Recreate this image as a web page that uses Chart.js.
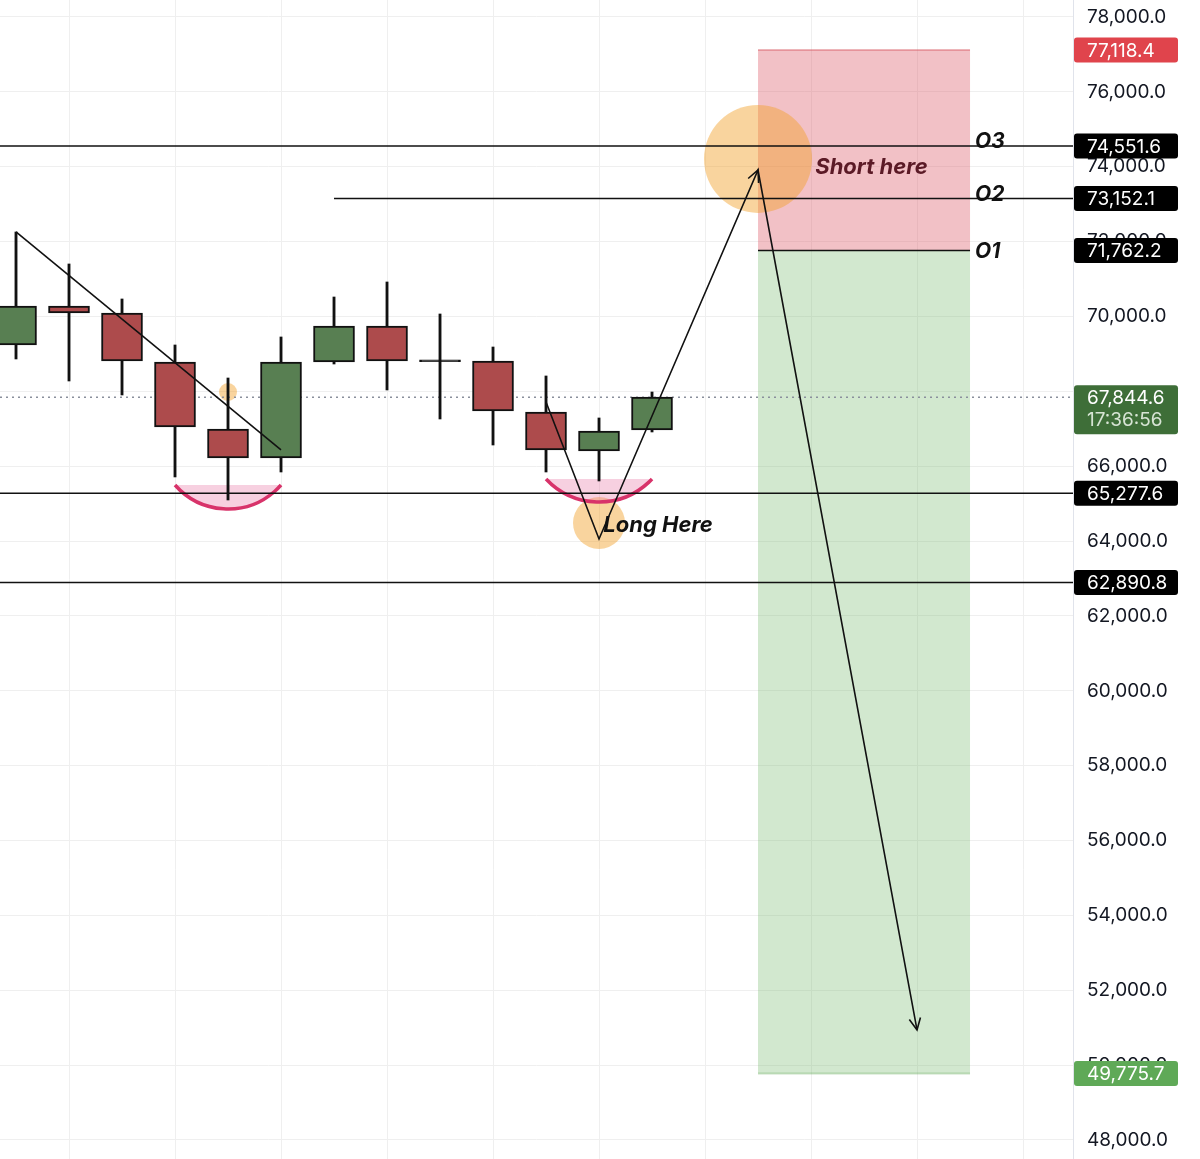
<!DOCTYPE html>
<html>
<head>
<meta charset="utf-8">
<script src="https://cdn.jsdelivr.net/npm/chart.js@4.4.1/dist/chart.umd.min.js"></script>
<style>
  html, body { margin: 0; padding: 0; background: #fff; }
  #wrap { width: 1200px; height: 1159px; position: relative; }
</style>
</head>
<body>
<div id="wrap"><canvas id="chart"></canvas></div>
<script>
'use strict';
// candles (index, OHLC)
var candleX = [-1, 0, 1, 2, 3, 4, 5, 6, 7, 8, 9, 10, 11];
var opens  = [69238, 70280, 70093, 68784, 66994, 66219, 68784, 69745, 68840, 68810, 67448, 66406, 66967];
var closes = [70280, 70093, 68810, 67047, 66219, 68784, 69745, 68810, 68790, 67475, 66433, 66940, 67844.6];
var highs  = [72257, 71402, 70467, 69238, 68356, 69452, 70520, 70921, 70066, 69184, 68410, 67288, 67982];
var lows   = [68864, 68276, 67902, 65712, 65097, 65845, 68730, 68036, 67261, 66566, 65845, 65605, 66914];

// axis
var yTicks = [48000, 50000, 52000, 54000, 56000, 58000, 60000, 62000, 64000, 66000, 68000, 70000, 72000, 74000, 76000, 78000];
var xGrid = [0, 2, 4, 6, 8, 10, 12, 14, 16, 18];
var viewX = [-1.302, 18.943];
var viewY = [47492, 78454];

// horizontal levels
var levelPrices = [74551.6, 73152.1, 65277.6, 62890.8];
var levelFrom = [null, 5, null, null];
var levelTags = ['O3', 'O2', null, null];

// position tool
var entryPrice = 71762.2;
var stopPrice = 77118.4;
var targetPrice = 49775.7;
var posFrom = 13, posTo = 17;

// current price
var lastPrice = 67844.6;
var lastTime = '17:36:56';

// drawings
var trendX = [-1, 4];
var trendY = [72257, 66433];
var pathX = [9, 10, 13, 16];
var pathY = [67715, 64055, 73913, 50939];
var cupFrom = [2, 9];
var cupTo = [4, 11];
var cupTop = [65498, 65658];
var cupBottom = [64857, 65044];
var markX = [13, 10, 3];
var markY = [74207, 64483, 67982];
var noteText = ['Short here', 'Long Here'];
var noteX = [14.08, 10.08];
var noteY = [73993, 64429];

var FONT = "Inter, 'Noto Sans', 'DejaVu Sans', sans-serif";
var GREEN = '#587f52', RED = '#ad4b4c', INK = '#111111';

function fmt(v) {
    return v.toLocaleString('en-US', { minimumFractionDigits: 1, maximumFractionDigits: 1 });
}

function arrowHead(ctx, x0, y0, x1, y1) {
    var a = Math.atan2(y1 - y0, x1 - x0), L = 13, s = 0.45;
    ctx.beginPath();
    ctx.moveTo(x1 - L * Math.cos(a - s), y1 - L * Math.sin(a - s));
    ctx.lineTo(x1, y1);
    ctx.lineTo(x1 - L * Math.cos(a + s), y1 - L * Math.sin(a + s));
    ctx.stroke();
}

var behind = {
    id: 'behind',
    beforeDatasetsDraw: function (chart) {
        var ctx = chart.ctx, x = chart.scales.x, y = chart.scales.y, a = chart.chartArea;
        ctx.save();
        ctx.beginPath(); ctx.rect(a.left, a.top, a.right - a.left, a.bottom - a.top); ctx.clip();
        var bx0 = x.getPixelForValue(posFrom), bx1 = x.getPixelForValue(posTo);
        var ye = y.getPixelForValue(entryPrice), ys = y.getPixelForValue(stopPrice), yt = y.getPixelForValue(targetPrice);
        ctx.fillStyle = 'rgba(222, 92, 104, 0.38)';
        ctx.fillRect(bx0, ys, bx1 - bx0, ye - ys);
        ctx.fillStyle = 'rgba(105, 180, 95, 0.3)';
        ctx.fillRect(bx0, ye, bx1 - bx0, yt - ye);
        ctx.strokeStyle = 'rgba(215, 90, 100, 0.45)'; ctx.lineWidth = 2;
        ctx.beginPath(); ctx.moveTo(bx0, ys); ctx.lineTo(bx1, ys); ctx.stroke();
        ctx.strokeStyle = 'rgba(100, 170, 90, 0.35)';
        ctx.beginPath(); ctx.moveTo(bx0, yt); ctx.lineTo(bx1, yt); ctx.stroke();

        // markers
        var radii = [54, 26, 9];
        ctx.fillStyle = 'rgba(242, 160, 40, 0.45)';
        for (var i = 0; i < markX.length; i++) {
            ctx.beginPath();
            ctx.arc(x.getPixelForValue(markX[i]), y.getPixelForValue(markY[i]), radii[i], 0, Math.PI * 2);
            ctx.fill();
        }

        // cups
        for (var c = 0; c < cupFrom.length; c++) {
            var x0 = x.getPixelForValue(cupFrom[c]), x1 = x.getPixelForValue(cupTo[c]);
            var yTop = y.getPixelForValue(cupTop[c]), yBot = y.getPixelForValue(cupBottom[c]);
            var half = (x1 - x0) / 2, sag = yBot - yTop;
            var r = (half * half + sag * sag) / (2 * sag);
            var cx = (x0 + x1) / 2, cy = yBot - r;
            var ang = Math.asin(half / r);
            ctx.beginPath();
            ctx.arc(cx, cy, r, Math.PI / 2 + ang, Math.PI / 2 - ang, true);
            ctx.closePath();
            ctx.fillStyle = 'rgba(232, 120, 165, 0.35)';
            ctx.fill();
            ctx.beginPath();
            ctx.arc(cx, cy, r, Math.PI / 2 + ang, Math.PI / 2 - ang, true);
            ctx.strokeStyle = '#d8336a'; ctx.lineWidth = 3.5;
            ctx.stroke();
        }

        // last price dotted
        var yl = y.getPixelForValue(lastPrice);
        ctx.strokeStyle = '#8a8f9c'; ctx.lineWidth = 1.5; ctx.setLineDash([2, 4]);
        ctx.beginPath(); ctx.moveTo(a.left, yl); ctx.lineTo(a.right, yl); ctx.stroke();
        ctx.restore();
    }
};

var overlay = {
    id: 'overlay',
    afterDatasetsDraw: function (chart) {
        var ctx = chart.ctx, x = chart.scales.x, y = chart.scales.y, a = chart.chartArea;
        ctx.save();
        ctx.beginPath(); ctx.rect(a.left, a.top, a.right - a.left, a.bottom - a.top + 1); ctx.clip();
        ctx.strokeStyle = INK; ctx.lineWidth = 1.5;
        var i;
        for (i = 0; i < levelPrices.length; i++) {
            var ly = y.getPixelForValue(levelPrices[i]);
            var lx = levelFrom[i] === null ? a.left : x.getPixelForValue(levelFrom[i]);
            ctx.beginPath(); ctx.moveTo(lx, ly); ctx.lineTo(a.right, ly); ctx.stroke();
        }
        var ye = y.getPixelForValue(entryPrice);
        ctx.beginPath(); ctx.moveTo(x.getPixelForValue(posFrom), ye); ctx.lineTo(x.getPixelForValue(posTo), ye); ctx.stroke();

        // trend line
        ctx.lineWidth = 1.6;
        ctx.beginPath();
        ctx.moveTo(x.getPixelForValue(trendX[0]), y.getPixelForValue(trendY[0]));
        ctx.lineTo(x.getPixelForValue(trendX[1]), y.getPixelForValue(trendY[1]));
        ctx.stroke();

        // path with arrows
        var px = pathX.map(function (v) { return x.getPixelForValue(v); });
        var py = pathY.map(function (v) { return y.getPixelForValue(v); });
        ctx.beginPath();
        ctx.moveTo(px[0], py[0]);
        for (i = 1; i < px.length; i++) ctx.lineTo(px[i], py[i]);
        ctx.stroke();
        arrowHead(ctx, px[1], py[1], px[2], py[2]);
        arrowHead(ctx, px[2], py[2], px[3], py[3]);

        // notes
        ctx.textBaseline = 'middle'; ctx.textAlign = 'left';
        ctx.font = 'italic 700 22px ' + FONT;
        ctx.fillStyle = '#5b1a26';
        ctx.fillText(noteText[0], x.getPixelForValue(noteX[0]), y.getPixelForValue(noteY[0]));
        ctx.fillStyle = INK;
        ctx.fillText(noteText[1], x.getPixelForValue(noteX[1]), y.getPixelForValue(noteY[1]));

        // O tags
        ctx.font = 'italic 700 21px ' + FONT;
        var tx = x.getPixelForValue(posTo) + 5;
        for (i = 0; i < levelTags.length; i++) {
            if (levelTags[i]) ctx.fillText(levelTags[i], tx, y.getPixelForValue(levelPrices[i]) - 4);
        }
        ctx.fillText('O1', tx, ye + 1);
        ctx.restore();
    },
    afterDraw: function (chart) {
        var ctx = chart.ctx, y = chart.scales.y;
        var bx = y.left + 1, bw = 104, bh = 25;
        function tag(price, bg, fg) {
            var cy = y.getPixelForValue(price);
            ctx.fillStyle = bg;
            ctx.beginPath(); ctx.roundRect(bx, cy - bh / 2, bw, bh, 3); ctx.fill();
            ctx.fillStyle = fg;
            ctx.fillText(fmt(price), y.left + 14, cy + 1);
        }
        ctx.save();
        ctx.font = '19px ' + FONT;
        ctx.textBaseline = 'middle'; ctx.textAlign = 'left';
        tag(stopPrice, '#e0444c', '#ffffff');
        for (var i = 0; i < levelPrices.length; i++) tag(levelPrices[i], '#000000', '#ffffff');
        tag(entryPrice, '#000000', '#ffffff');
        tag(targetPrice, '#5fa957', '#ffffff');
        // last price box
        var cy = y.getPixelForValue(lastPrice);
        ctx.fillStyle = '#3e6e38';
        ctx.beginPath(); ctx.roundRect(bx, cy - 12, bw, 49, 3); ctx.fill();
        ctx.fillStyle = '#ffffff';
        ctx.fillText(fmt(lastPrice), y.left + 14, cy + 1);
        ctx.fillStyle = '#d7e4d4';
        ctx.fillText(lastTime, y.left + 14, cy + 23);
        ctx.restore();
    }
};

var bodies = candleX.map(function (v, i) { return { x: v, y: [opens[i], closes[i]] }; });
var wicks = candleX.map(function (v, i) { return { x: v, y: [lows[i], highs[i]] }; });
var bodyColors = candleX.map(function (v, i) { return closes[i] >= opens[i] ? GREEN : RED; });
bodyColors[8] = INK;

var chart = new Chart(document.getElementById('chart'), {
    type: 'bar',
    data: {
        datasets: [
            {
                label: 'bodies',
                data: bodies,
                backgroundColor: bodyColors,
                borderColor: INK,
                borderWidth: 2,
                borderSkipped: false,
                barThickness: 41,
                grouped: false,
                order: 0
            },
            {
                label: 'wicks',
                data: wicks,
                backgroundColor: INK,
                borderWidth: 0,
                barThickness: 2.2,
                grouped: false,
                order: 1
            }
        ]
    },
    options: {
        responsive: true,
        maintainAspectRatio: false,
        animation: false,
        layout: { padding: 0 },
        plugins: { legend: { display: false }, tooltip: { enabled: false } },
        scales: {
            x: {
                type: 'linear',
                min: viewX[0],
                max: viewX[1],
                offset: false,
                afterBuildTicks: function (s) { s.ticks = xGrid.map(function (v) { return { value: v }; }); },
                afterFit: function (s) { s.height = 0; s.paddingLeft = 0; s.paddingRight = 0; },
                ticks: { display: false },
                grid: { color: '#efefef', drawTicks: false, offset: false },
                border: { display: false }
            },
            y: {
                position: 'right',
                min: viewY[0],
                max: viewY[1],
                afterBuildTicks: function (s) { s.ticks = yTicks.map(function (v) { return { value: v }; }); },
                afterFit: function (s) { s.width = 127; s.paddingTop = 0; s.paddingBottom = 0; },
                grid: { color: '#efefef', drawTicks: false },
                border: { color: '#e0e3eb', width: 1 },
                ticks: {
                    padding: 14,
                    color: '#131722',
                    font: { size: 19, family: FONT },
                    callback: function (v) {
                        // hidden behind the last price label, as on the source
                        return Math.abs(v - lastPrice) < 600 ? '' : fmt(v);
                    }
                }
            }
        }
    },
    plugins: [behind, overlay]
});
</script>
</body>
</html>
